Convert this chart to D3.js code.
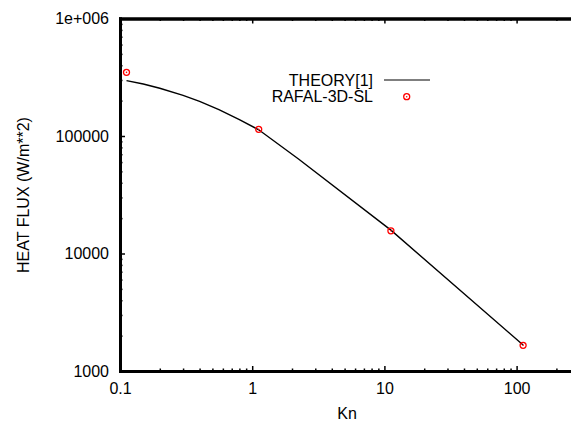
<!DOCTYPE html>
<meta charset="utf-8">
<script src="https://d3js.org/d3.v7.min.js"></script>
<style>
body { margin: 0; background: #fff; }
text { font-family: "Liberation Sans", Arial, sans-serif; font-size: 16px; fill: #000; }
.axis path { stroke: #000; stroke-width: 3; }
.axis line { stroke: #000; stroke-width: 1.5; }
</style>
<body></body>
<script>

// data
var theoryKn   = [0.112, 0.15, 0.2, 0.3, 0.4, 0.56, 0.8, 1.12, 2.24, 11.2, 112];
var theoryFlux = [296000, 277000, 255000, 222000, 197000, 168000, 138000, 113000, 63700, 15800, 1664];

var rafalKn   = [0.112, 1.12, 11.2, 112];
var rafalFlux = [348000, 114000, 15600, 1655];

var xTicks = [0.1, 1, 10, 100];
var xTickLabels = ["0.1", "1", "10", "100"];
var yTicks = [1000, 10000, 100000, 1000000];
var yTickLabels = ["1000", "10000", "100000", "1e+006"];

var width = 571, height = 421;
var plotLeft = 120, plotTop = 18.5, plotBottom = 371;

var svg = d3.select("body").append("svg")
    .attr("width", width)
    .attr("height", height);

svg.append("rect").attr("width", width).attr("height", height).attr("fill", "#fff");

var xScale = d3.scaleLog().domain([0.1, 1000]).range([plotLeft, plotLeft + 4 * 132.2]);
var yScale = d3.scaleLog().domain([1000, 1000000]).range([plotBottom, plotTop]);

// minor tick positions 2..9 per decade
var xMinor = [], yMinor = [];
xTicks.forEach(function(d) {
  for (var k = 2; k < 10; k++) xMinor.push(d * k);
});
yTicks.slice(0, -1).forEach(function(d) {
  for (var k = 2; k < 10; k++) yMinor.push(d * k);
});

var xAxis = d3.axisBottom(xScale).tickValues(xTicks)
  .tickFormat(function(d, i) { return xTickLabels[i]; })
  .tickSize(-5).tickSizeOuter(0).tickPadding(12);
var xAxisTop = d3.axisTop(xScale).tickValues(xTicks).tickFormat("")
  .tickSize(-5).tickSizeOuter(0);
var yAxis = d3.axisLeft(yScale).tickValues(yTicks)
  .tickFormat(function(d, i) { return yTickLabels[i]; })
  .tickSize(-5).tickSizeOuter(0).tickPadding(11);

var minorB = d3.axisBottom(xScale).tickValues(xMinor).tickFormat("").tickSize(-2.5).tickSizeOuter(0);
var minorT = d3.axisTop(xScale).tickValues(xMinor).tickFormat("").tickSize(-2.5).tickSizeOuter(0);
var minorL = d3.axisLeft(yScale).tickValues(yMinor).tickFormat("").tickSize(-2.5).tickSizeOuter(0);

function addAxis(ax, tr) {
  var g = svg.append("g").attr("class", "axis").attr("transform", tr).call(ax);
  g.attr("font-size", null).attr("font-family", null);
  return g;
}
addAxis(minorB, "translate(0," + plotBottom + ")");
addAxis(minorT, "translate(0," + plotTop + ")");
addAxis(minorL, "translate(" + plotLeft + ",0)");
addAxis(xAxis, "translate(0," + plotBottom + ")");
addAxis(xAxisTop, "translate(0," + plotTop + ")");
addAxis(yAxis, "translate(" + plotLeft + ",0)");

svg.selectAll(".axis .domain").attr("stroke-linecap", "square");

// axis titles
svg.append("text")
  .attr("x", 347).attr("y", 419)
  .attr("text-anchor", "middle")
  .text("Kn");

svg.append("text")
  .attr("transform", "translate(28.5,195) rotate(-90)")
  .attr("text-anchor", "middle")
  .text("HEAT FLUX (W/m**2)");

// theory line
var theory = theoryKn.map(function(d, i) { return [d, theoryFlux[i]]; });
var line = d3.line()
  .x(function(d) { return xScale(d[0]); })
  .y(function(d) { return yScale(d[1]); });

svg.append("path")
  .datum(theory)
  .attr("d", line)
  .attr("fill", "none")
  .attr("stroke", "#000")
  .attr("stroke-width", 1.4);

// simulation points
var rafal = rafalKn.map(function(d, i) { return [d, rafalFlux[i]]; });

function marker(sel) {
  sel.append("circle").attr("r", 3).attr("fill", "none")
    .attr("stroke", "#f00").attr("stroke-width", 1.3);
  sel.append("circle").attr("r", 0.8).attr("fill", "#f00");
}

svg.selectAll(".pt")
  .data(rafal)
  .enter().append("g")
  .attr("class", "pt")
  .attr("transform", function(d) { return "translate(" + xScale(d[0]) + "," + yScale(d[1]) + ")"; })
  .call(marker);

// legend
svg.append("text").attr("x", 373).attr("y", 86).attr("text-anchor", "end").text("THEORY[1]");
svg.append("line").attr("x1", 384).attr("x2", 430).attr("y1", 80).attr("y2", 80)
  .attr("stroke", "#555").attr("stroke-width", 1.5);
svg.append("text").attr("x", 373).attr("y", 101.7).attr("text-anchor", "end").text("RAFAL-3D-SL");
svg.append("g").attr("transform", "translate(406.7,96.7)").call(marker);

</script>
